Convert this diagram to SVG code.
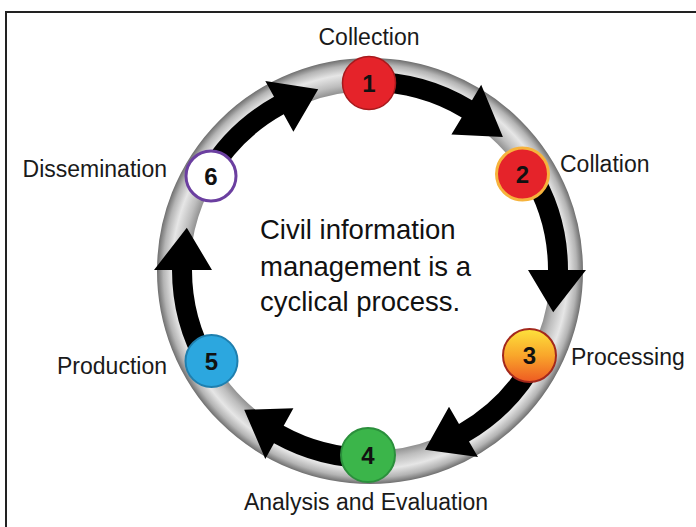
<svg xmlns="http://www.w3.org/2000/svg" width="696" height="527" viewBox="0 0 696 527">
<style>
.lbl{font-family:"Liberation Sans",Arial,sans-serif;font-size:23px;fill:#1a1a1a}
.num{font-family:"Liberation Sans",Arial,sans-serif;font-size:24px;font-weight:bold;fill:#111;text-anchor:middle}
.ctr{font-family:"Liberation Sans",Arial,sans-serif;font-size:27.5px;fill:#111}
.arrow{fill:#000}
</style>
<defs>
<radialGradient id="ringGrad" gradientUnits="userSpaceOnUse" cx="370" cy="271" r="213">
<stop offset="0.84" stop-color="#8c8c8c"/>
<stop offset="0.88" stop-color="#bdbdbd"/>
<stop offset="0.93" stop-color="#e6e6e6"/>
<stop offset="0.97" stop-color="#b4b4b4"/>
<stop offset="1" stop-color="#6f6f6f"/>
</radialGradient>
<linearGradient id="n3Grad" x1="0" y1="0" x2="0" y2="1">
<stop offset="0" stop-color="#fde23c"/>
<stop offset="0.5" stop-color="#f9a62b"/>
<stop offset="1" stop-color="#ee5a22"/>
</linearGradient>
</defs>
<rect x="6" y="12" width="700" height="530" fill="#fff" stroke="#222" stroke-width="2"/>
<g id="ring">
<circle cx="370" cy="271" r="196.5" fill="none" stroke="url(#ringGrad)" stroke-width="33"/>
</g>
<g id="connectors">
<path class="arrow" d="M370,72 A198,198 0 0 1 472.0,100.3 L481.2,84.8 L502.9,137.1 L451.4,134.6 L461.7,117.4 A178,178 0 0 0 370,92 Z"/>
<path class="arrow" d="M537.9,165.1 A198,198 0 0 1 568,270 L586,270 L553.2,312.3 L528,270 L548,270 A178,178 0 0 0 520.9,175.7 Z"/>
<path class="arrow" d="M544.8,363.0 A198,198 0 0 1 469,441.5 L478,457.1 L425.0,449.8 L449,406.8 L459,424.1 A178,178 0 0 0 527.2,353.6 Z"/>
<path class="arrow" d="M370,468 A198,198 0 0 1 274.0,443.2 L265.3,458.9 L244.2,409.7 L293.4,408.2 L283.7,425.7 A178,178 0 0 0 370,448 Z"/>
<path class="arrow" d="M198.5,369 A198,198 0 0 1 172,270 L154,270 L186.8,227.7 L212,270 L192,270 A178,178 0 0 0 215.9,359 Z"/>
<path class="arrow" d="M198.5,171 A198,198 0 0 1 274.0,96.8 L265.3,81.1 L318.2,89.3 L293.4,131.8 L283.7,114.3 A178,178 0 0 0 215.9,181 Z"/>
</g>
<g id="node1">
<circle cx="369" cy="83" r="26.5" fill="#e5232a" stroke="#a8191c" stroke-width="1.5"/>
<text class="num" x="369" y="91.5">1</text>
<text class="lbl" x="369" y="45" text-anchor="middle">Collection</text>
</g>
<g id="node2">
<circle cx="522.5" cy="174" r="26" fill="#e5232a" stroke="#f6b33c" stroke-width="3"/>
<text class="num" x="522.5" y="182.5">2</text>
<text class="lbl" x="560" y="172">Collation</text>
</g>
<g id="node3">
<circle cx="529.5" cy="355.5" r="26.5" fill="url(#n3Grad)" stroke="#a3281c" stroke-width="2"/>
<text class="num" x="529.5" y="364">3</text>
<text class="lbl" x="571" y="365">Processing</text>
</g>
<g id="node4">
<circle cx="368" cy="455" r="27" fill="#3bb54a" stroke="#2b8f3c" stroke-width="2"/>
<text class="num" x="368" y="463.5">4</text>
<text class="lbl" x="366" y="510" text-anchor="middle">Analysis and Evaluation</text>
</g>
<g id="node5">
<circle cx="211.5" cy="361" r="26" fill="#2ca7df" stroke="#1f7fae" stroke-width="2"/>
<text class="num" x="211.5" y="369.5">5</text>
<text class="lbl" x="167" y="374" text-anchor="end">Production</text>
</g>
<g id="node6">
<circle cx="211" cy="176" r="25" fill="#fff" stroke="#6b3fa0" stroke-width="3"/>
<text class="num" x="211" y="184.5">6</text>
<text class="lbl" x="167" y="177" text-anchor="end">Dissemination</text>
</g>
<g id="center-text">
<text class="ctr" x="260" y="239">Civil information</text>
<text class="ctr" x="260" y="275.5">management is a</text>
<text class="ctr" x="260" y="311">cyclical process.</text>
</g>
</svg>
